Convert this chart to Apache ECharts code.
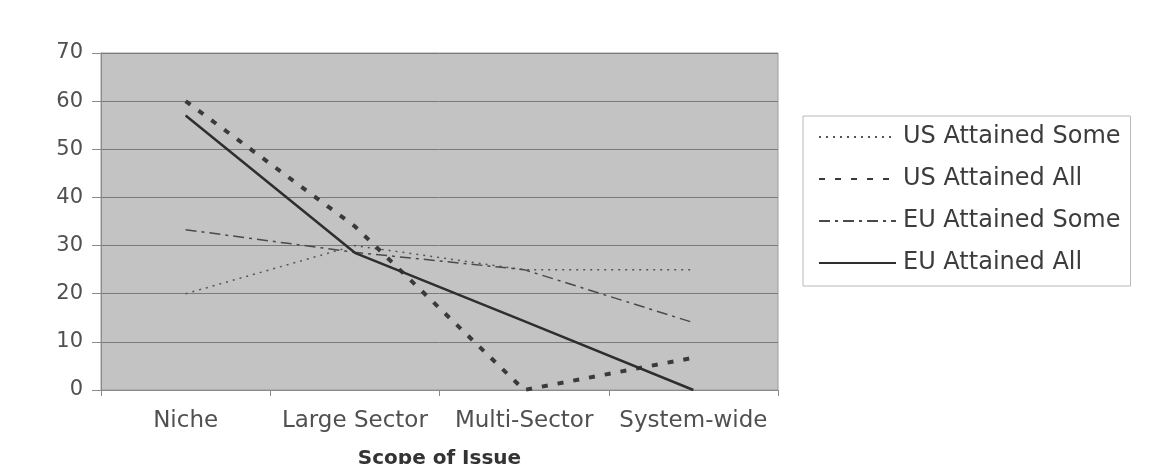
<!DOCTYPE html>
<html>
<head>
<meta charset="utf-8">
<script src="https://cdn.jsdelivr.net/npm/echarts@6/dist/echarts.min.js"></script>
<style>
  html, body { margin: 0; padding: 0; background: #ffffff; }
  #chart { width: 1171px; height: 464px; }
</style>
</head>
<body>
<div id="chart"></div>
<script>
// Scope categories along the horizontal axis
const categories = ['Niche', 'Large Sector', 'Multi-Sector', 'System-wide'];

// Percentage values per series
const usAttainedSome = [20, 30, 25, 25];
const usAttainedAll = [60, 34, 0, 6.7];
const euAttainedSome = [33.3, 28.6, 25, 14];
const euAttainedAll = [57, 28.5, 14.3, 0];

// Vertical axis range
const yMin = 0;
const yMax = 70;
const yStep = 10;

const FONT = '"DejaVu Sans", "Liberation Sans", Arial, sans-serif';

const chart = echarts.init(document.getElementById('chart'), null, { renderer: 'canvas' });

function lineSeries(name, data, width, type, color) {
  return {
    name: name,
    type: 'line',
    data: data,
    showSymbol: false,
    symbol: 'none',
    smooth: false,
    lineStyle: { width: width, type: type, color: color, cap: 'butt' },
    itemStyle: { color: color },
    emphasis: { disabled: true }
  };
}

chart.setOption({
  animation: false,
  backgroundColor: '#ffffff',
  grid: {
    left: 101, right: 393, top: 53, bottom: 74,
    containLabel: false,
    outerBoundsMode: 'none',
    show: true,
    backgroundColor: '#c3c3c3',
    borderColor: '#9a9a9a',
    borderWidth: 1
  },
  legend: {
    orient: 'vertical',
    left: 803,
    top: 116,
    padding: [9, 10, 11, 15],
    itemGap: 18,
    itemWidth: 77,
    itemHeight: 14,
    itemStyle: { opacity: 0 },
    backgroundColor: '#ffffff',
    borderColor: '#b8b8b8',
    borderWidth: 1,
    borderRadius: 0,
    textStyle: { fontFamily: FONT, fontSize: 24, lineHeight: 24, color: '#3c3c3c', padding: [0, 0, 0, 2] },
    data: ['US Attained Some', 'US Attained All', 'EU Attained Some', 'EU Attained All']
  },
  xAxis: {
    type: 'category',
    data: categories,
    boundaryGap: true,
    name: 'Scope of Issue',
    nameLocation: 'middle',
    nameGap: 59,
    nameMoveOverlap: false,
    nameTextStyle: { fontFamily: FONT, fontSize: 20, fontWeight: 'bold', color: '#333' },
    axisLine: { show: true, lineStyle: { color: '#8a8a8a', width: 1 } },
    axisTick: { show: true, length: 6, lineStyle: { color: '#8a8a8a' } },
    axisLabel: { fontFamily: FONT, fontSize: 23, color: '#505050', margin: 20, interval: 0, hideOverlap: false },
    splitLine: { show: false }
  },
  yAxis: {
    type: 'value',
    min: yMin,
    max: yMax,
    interval: yStep,
    axisLine: { show: true, lineStyle: { color: '#8a8a8a', width: 1 } },
    axisTick: { show: true, length: 9, lineStyle: { color: '#8a8a8a' } },
    axisLabel: { fontFamily: FONT, fontSize: 21, color: '#505050', margin: 18 },
    splitLine: { show: true, lineStyle: { color: '#7a7a7a', width: 1 } }
  },
  series: [
    lineSeries('US Attained Some', usAttainedSome, 1.5, [2, 5], '#555555'),
    lineSeries('US Attained All', usAttainedAll, 4, [6, 10], '#3a3a3a'),
    lineSeries('EU Attained Some', euAttainedSome, 1.5, [11, 5, 3, 5], '#4a4a4a'),
    lineSeries('EU Attained All', euAttainedAll, 2.5, 'solid', '#2e2e2e')
  ]
});
</script>
</body>
</html>
